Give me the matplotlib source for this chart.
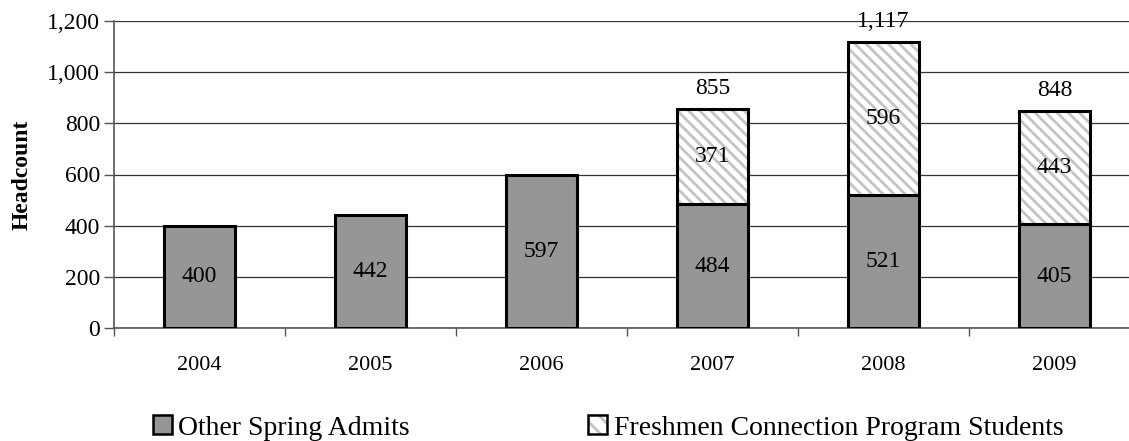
import matplotlib

matplotlib.use("Agg")
import matplotlib.pyplot as plt  # noqa: E402
from matplotlib.legend_handler import HandlerTuple  # noqa: E402
from matplotlib.patches import Patch  # noqa: E402
from matplotlib.ticker import FixedLocator, FuncFormatter  # noqa: E402

# headcount por ano de admissao na primavera
YEARS = ["2004", "2005", "2006", "2007", "2008", "2009"]
OTHER_ADMITS = [400, 442, 597, 484, 521, 405]
FRESHMEN_CONN = [0, 0, 0, 371, 596, 443]
SERIES_NAMES = ["Other Spring Admits", "Freshmen Connection Program Students"]

DARK = "#969696"
HATCH_GREY = "#c4c4c4"
HATCH = "\\\\\\"

plt.rcParams.update(
    {
        "font.family": ["Liberation Serif", "DejaVu Serif"],
        "hatch.linewidth": 2.0,
    }
)

fig = plt.figure(figsize=(11.29, 4.41), dpi=100)
ax = fig.add_axes([114 / 1129, 113 / 441, 1026 / 1129, 307 / 441])

x = list(range(len(YEARS)))
width = 0.41
tops = [o + f for o, f in zip(OTHER_ADMITS, FRESHMEN_CONN)]

ax.bar(x, OTHER_ADMITS, width, color=DARK, edgecolor="black", linewidth=2.2, zorder=3)
for i, (o, f) in enumerate(zip(OTHER_ADMITS, FRESHMEN_CONN)):
    ax.text(i, o / 2, f"{o:,}", ha="center", va="center", fontsize=17, zorder=5)
    if f == 0:
        continue
    # hachura cinza clara; a borda preta vai numa segunda barra sem preenchimento
    ax.bar(i, f, width, bottom=o, color="white", edgecolor=HATCH_GREY,
           linewidth=0, hatch=HATCH, zorder=3)
    ax.bar(i, f, width, bottom=o, fill=False, edgecolor="black", linewidth=2.2, zorder=4)
    ax.text(i, o + f / 2, f"{f:,}", ha="center", va="center", fontsize=17, zorder=5)
    ax.annotate(f"{tops[i]:,}", (i, tops[i]), xytext=(0, 15), textcoords="offset points",
                ha="center", va="center", fontsize=17, zorder=5, annotation_clip=False)

ax.set_xlim(-0.5, len(YEARS) - 0.5)
ax.set_ylim(0, 1200)
ax.set_yticks(range(0, 1201, 200))
ax.yaxis.set_major_formatter(FuncFormatter(lambda v, _: f"{int(v):,}"))
ax.yaxis.grid(True, color="#333333", linewidth=0.9, zorder=0)
ax.set_axisbelow(True)

ax.set_xticks(x)
ax.set_xticklabels(YEARS)
ax.xaxis.set_minor_locator(FixedLocator([i - 0.5 for i in range(len(YEARS) + 1)]))
ax.tick_params(axis="x", which="major", length=0, pad=20, labelsize=16)
ax.tick_params(axis="x", which="minor", length=6, width=1, color="#555555")
ax.tick_params(axis="y", length=7, width=1, color="#555555", labelsize=17, pad=3)

for side in ["top", "right"]:
    ax.spines[side].set_visible(False)
for side in ["left", "bottom"]:
    ax.spines[side].set_color("#555555")
    ax.spines[side].set_linewidth(1.2)

ax.set_ylabel("Headcount", fontsize=17, fontweight="bold")
ax.yaxis.set_label_coords((33 - 114) / 1026, 0.5)

# handle da legenda hachurada = hachura cinza + contorno preto sobrepostos
hatch_handle = (
    Patch(facecolor="white", edgecolor=HATCH_GREY, linewidth=0, hatch="\\\\"),
    Patch(fill=False, edgecolor="black", linewidth=1.8),
)
handles = [
    Patch(facecolor=DARK, edgecolor="black", linewidth=1.8),
    hatch_handle,
]
fig.legend(
    handles,
    SERIES_NAMES,
    handler_map={tuple: HandlerTuple(ndivide=1, pad=0)},
    loc="center",
    bbox_to_anchor=(608 / 1129, 1 - 428 / 441),
    ncol=2,
    frameon=False,
    fontsize=20,
    handlelength=0.68,
    handleheight=0.68,
    handletextpad=0.25,
    columnspacing=6.4,
)

fig.savefig("out.png", dpi=100)
